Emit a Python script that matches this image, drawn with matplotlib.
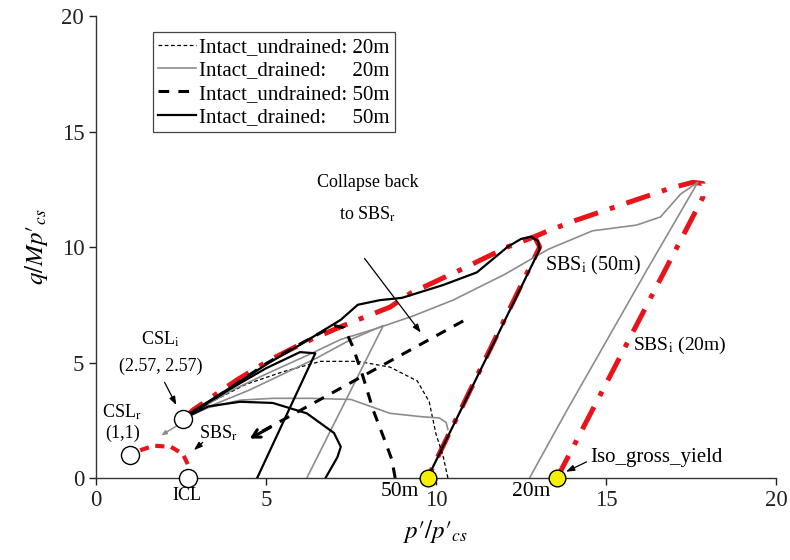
import matplotlib
matplotlib.use("Agg")
import matplotlib.pyplot as plt

plt.rcParams['font.family'] = ['Liberation Serif', 'DejaVu Serif']
plt.rcParams['mathtext.fontset'] = 'stix'

# ---- stress paths (p'/p'cs, q/Mp'cs) ----
# intact drained, 50 m
drained50_a_p = [9.75, 11.0, 12.0, 13.05, 13.0, 12.8, 12.5, 12.1, 11.2, 10.2, 9.0, 8.35, 7.7, 7.2, 6.7, 6.1, 5.1, 4.15, 2.76, 2.57]
drained50_a_q = [0.0, 3.75, 6.75, 9.9, 10.25, 10.45, 10.35, 10.0, 8.9, 8.35, 7.8, 7.7, 7.5, 6.85, 6.4, 5.85, 5.0, 4.1, 2.8, 2.57]
drained50_b_p = [4.74, 6.45, 6.0, 5.0, 4.0, 3.0, 2.57]
drained50_b_q = [0.0, 5.4, 5.45, 4.75, 3.9, 3.0, 2.57]
drained50_c_p = [2.57, 3.3, 4.24, 5.2, 6.2, 7.0, 7.2, 7.1, 6.75]
drained50_c_q = [2.57, 3.1, 3.3, 3.25, 2.8, 1.95, 1.35, 0.9, 0.0]

# intact drained, 20 m
drained20_a_p = [12.75, 13.8, 15.0, 16.2, 17.7, 17.2, 16.6, 15.9, 14.6, 13.3, 12.0, 10.5, 9.3, 8.2, 7.2, 6.2, 5.0, 4.0, 3.0, 2.57]
drained20_a_q = [0.0, 2.8, 5.9, 9.0, 12.8, 12.3, 11.3, 10.95, 10.7, 9.9, 8.8, 7.7, 7.0, 6.45, 6.0, 5.3, 4.5, 3.8, 2.95, 2.57]
drained20_b_p = [6.2, 8.45, 7.5, 6.5, 5.5, 4.5, 3.5, 2.57]
drained20_b_q = [0.0, 6.6, 6.0, 5.2, 4.5, 3.8, 3.2, 2.57]
drained20_c_p = [2.57, 3.3, 4.24, 5.2, 6.3, 7.5, 8.65, 9.6, 10.1, 10.3, 10.35]
drained20_c_q = [2.57, 3.05, 3.37, 3.45, 3.45, 3.4, 2.8, 2.65, 2.6, 2.4, 2.1]

# intact undrained
undrained20_p = [10.35, 10.2, 10.0, 9.8, 9.45, 8.65, 7.7, 6.6, 5.5, 4.4, 3.4, 2.57]
undrained20_q = [0.0, 1.0, 1.9, 3.3, 4.2, 4.8, 5.05, 5.05, 4.6, 4.05, 3.3, 2.57]
undrained50_p = [8.8, 8.7, 8.5, 8.15, 7.85, 7.55, 7.3, 7.0, 6.0, 5.0, 4.0, 2.57]
undrained50_q = [0.0, 0.8, 1.6, 2.95, 4.4, 5.7, 6.5, 6.6, 5.8, 4.95, 3.95, 2.57]
collapse_p = [10.8, 4.8]
collapse_q = [6.8, 1.95]

# state boundary surfaces
sbs_i_p = [2.57, 2.86, 4.15, 5.1, 6.1, 7.2, 7.7, 8.65, 9.25, 10.7, 12.1, 12.9, 13.3, 14.1, 15.6, 16.9, 17.55, 17.85, 17.85, 13.56]
sbs_i_q = [2.57, 2.95, 4.25, 5.1, 5.85, 6.55, 6.85, 7.4, 8.0, 9.0, 10.0, 10.45, 10.7, 11.15, 11.9, 12.55, 12.8, 12.75, 12.15, 0.0]
sbs_i50_p = [12.9, 13.05, 9.75]
sbs_i50_q = [10.45, 10.0, 0.0]
sbs_r_p = [1.3, 1.7, 2.2, 2.55, 2.7, 2.7]
sbs_r_q = [1.2, 1.4, 1.35, 1.05, 0.6, 0.25]

# reference points
csl_i = (2.57, 2.57)
csl_r = (1.0, 1.0)
icl = (2.7, 0.0)
yield_p = [9.75, 13.56]
yield_q = [0.0, 0.0]

fig = plt.figure(figsize=(7.9, 5.6), dpi=100)
ax = fig.add_axes([0.1215, 0.1464, 0.8608, 0.825])

red = '#e8141a'
gray = '#8c8c8c'

ax.plot(sbs_i_p, sbs_i_q, color=red, lw=3.6, dashes=(5, 2.5, 1, 2.5), zorder=2)
ax.plot(sbs_i50_p, sbs_i50_q, color=red, lw=3.6, dashes=(5, 2.5, 1, 2.5), zorder=2)
ax.plot(sbs_r_p, sbs_r_q, color=red, lw=3.0, dashes=(2.2, 1.6), zorder=2)

l1, = ax.plot(undrained20_p, undrained20_q, color='black', lw=0.9, dashes=(3, 2), zorder=3)
for pp, qq in [(drained20_a_p, drained20_a_q), (drained20_b_p, drained20_b_q), (drained20_c_p, drained20_c_q)]:
    l2, = ax.plot(pp, qq, color=gray, lw=1.2, zorder=3)
l3, = ax.plot(undrained50_p, undrained50_q, color='black', lw=2.2, dashes=(3.5, 3), zorder=3)
ax.plot(collapse_p, collapse_q, color='black', lw=2.2, dashes=(3.5, 3), zorder=3)
ax.annotate('', xy=(4.45, 1.65), xytext=(5.2, 2.25),
            arrowprops=dict(arrowstyle='->,head_length=0.55,head_width=0.3', lw=2.2, color='black'))
for pp, qq in [(drained50_a_p, drained50_a_q), (drained50_b_p, drained50_b_q), (drained50_c_p, drained50_c_q)]:
    l4, = ax.plot(pp, qq, color='black', lw=1.6, zorder=4)

# short gray arrow from CSL_i toward CSL_r
ax.annotate('', xy=(1.85, 1.78), xytext=(2.55, 2.42),
            arrowprops=dict(arrowstyle='-|>,head_length=0.3,head_width=0.12', lw=1.1, color=gray))

# markers
for pt in [csl_i, csl_r, icl]:
    ax.plot(*pt, 'o', ms=13, mfc='white', mec='black', mew=1.0, zorder=6, clip_on=False)
ax.plot(yield_p, yield_q, 'o', ms=12, mfc='#f5f000', mec='black', mew=1.0, zorder=6, clip_on=False, ls='none')

arrow_kw = dict(arrowstyle='-|>,head_length=0.5,head_width=0.18', lw=0.9, color='black')
fs = 13
ax.text(8.0, 12.8, 'Collapse back', fontsize=fs, ha='center', va='center')
ax.text(8.0, 11.4, r'to SBS$_\mathrm{r}$', fontsize=fs, ha='center', va='center')
ax.annotate('', xy=(9.6, 6.2), xytext=(7.85, 9.6), arrowprops=arrow_kw)
ax.text(13.2, 9.2, r'SBS$_\mathrm{i}$ (50m)', fontsize=14.5, ha='left', va='center')
ax.text(15.8, 5.75, r'SBS$_\mathrm{i}$ (20m)', fontsize=14, ha='left', va='center')
ax.text(14.55, 0.9, 'Iso_gross_yield', fontsize=15, ha='left', va='center')
ax.annotate('', xy=(13.75, 0.22), xytext=(14.5, 0.75), arrowprops=arrow_kw)
ax.text(8.95, -0.6, '50m', fontsize=15.5, ha='center', va='center', clip_on=False)
ax.text(12.8, -0.6, '20m', fontsize=15.5, ha='center', va='center', clip_on=False)
ax.text(2.68, -0.75, 'ICL', fontsize=fs, ha='center', va='center', clip_on=False)
ax.text(1.9, 6.0, r'CSL$_\mathrm{i}$', fontsize=fs, ha='center', va='center')
ax.text(1.9, 4.85, '(2.57, 2.57)', fontsize=fs, ha='center', va='center')
ax.annotate('', xy=(2.4, 3.05), xytext=(1.98, 4.25), arrowprops=arrow_kw)
ax.text(0.77, 2.85, r'CSL$_\mathrm{r}$', fontsize=fs, ha='center', va='center')
ax.text(0.77, 1.95, '(1,1)', fontsize=fs, ha='center', va='center')
ax.text(3.6, 1.95, r'SBS$_\mathrm{r}$', fontsize=fs, ha='center', va='center')
ax.annotate('', xy=(2.82, 1.13), xytext=(3.2, 1.62), arrowprops=arrow_kw)

ax.set_xlim(0, 20)
ax.set_ylim(0, 20)
ax.set_xticks([0, 5, 10, 15, 20])
ax.set_yticks([0, 5, 10, 15, 20])
ax.spines['top'].set_visible(False)
ax.spines['right'].set_visible(False)
for s in ['left', 'bottom']:
    ax.spines[s].set_color('#333333')
    ax.spines[s].set_linewidth(1.0)
ax.tick_params(direction='out', length=5, width=1.0, labelsize=16.5, colors='#222222')
ax.set_xlabel(r"$p\prime/p\prime_{cs}$", fontsize=18, labelpad=5)
ax.set_ylabel(r"$q/Mp\prime_{cs}$", fontsize=18, labelpad=8)

leg = ax.legend([l1, l2, l3, l4],
                ['Intact_undrained: 20m', 'Intact_drained:     20m',
                 'Intact_undrained: 50m', 'Intact_drained:     50m'],
                loc='upper left', bbox_to_anchor=(0.084, 0.965), fontsize=15,
                frameon=True, fancybox=False, edgecolor='#444444', framealpha=1,
                handlelength=1.8, handletextpad=0.15, borderpad=0.25, labelspacing=0.18,
                borderaxespad=0)
leg.get_frame().set_linewidth(0.9)

fig.savefig('out.png', dpi=100)
